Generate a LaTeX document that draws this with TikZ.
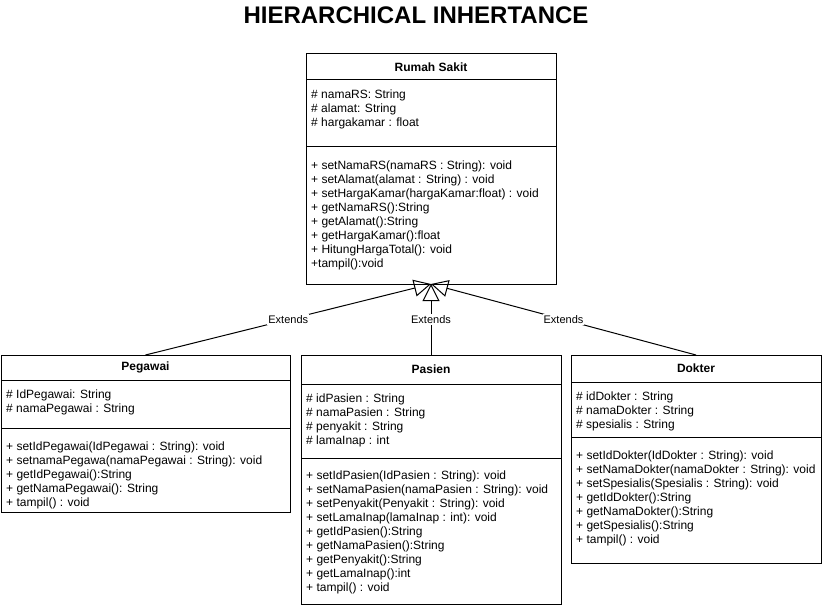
\documentclass[tikz,border=0pt]{standalone}
\usepackage{fontspec}
\setmainfont{Liberation Sans}
\usepackage{tikz}
\usetikzlibrary{arrows.meta,positioning,calc}

\begin{document}
\begin{tikzpicture}[
    x=1pt, y=-1pt,
    font=\fontsize{12}{14}\selectfont,
    classhead/.style={rectangle, draw=black, line width=1pt, outer sep=0pt, anchor=north west, font=\fontsize{12}{14}\selectfont\bfseries},
    classsect/.style={rectangle, draw=black, line width=1pt, outer sep=0pt, below=0pt of #1},
    members/.style={anchor=north west, inner sep=0pt, align=left},
    extends/.style={draw=black, line width=1pt, -{Triangle[open, length=17pt, width=17pt]}},
    extlabel/.style={midway, fill=white, inner sep=1pt, font=\fontsize{11}{13}\selectfont}
]
    \useasboundingbox (0,0) rectangle (822,607);

    \node (title) at (416,15) {\fontsize{24}{28}\selectfont\bfseries HIERARCHICAL INHERTANCE};

    % Rumah Sakit
    \node (rsH) [classhead, minimum width=250, minimum height=26] at (306,54) {Rumah Sakit};
    \node (rsA) [classsect=rsH, minimum width=250, minimum height=67] {};
    \node (rsM) [classsect=rsA, minimum width=250, minimum height=137] {};
    \node (rsAtt) [members] at ([xshift=5pt, yshift=-10pt]rsA.north west) {\# namaRS: String\\\# alamat: String\\\# hargakamar : float};
    \node (rsMeth) [members] at ([xshift=5pt, yshift=-14pt]rsM.north west) {+ setNamaRS(namaRS : String): void\\+ setAlamat(alamat : String) : void\\+ setHargaKamar(hargaKamar:float) : void\\+ getNamaRS():String\\+ getAlamat():String\\+ getHargaKamar():float\\+ HitungHargaTotal(): void\\+tampil():void};

    % Pegawai
    \node (pgH) [classhead, minimum width=289, minimum height=25] at (1,355) {Pegawai};
    \node (pgA) [classsect=pgH, minimum width=289, minimum height=48] {};
    \node (pgM) [classsect=pgA, minimum width=289, minimum height=84] {};
    \node (pgAtt) [members] at ([xshift=5pt, yshift=-10pt]pgA.north west) {\# IdPegawai: String\\\# namaPegawai : String};
    \node (pgMeth) [members] at ([xshift=5pt, yshift=-14pt]pgM.north west) {+ setIdPegawai(IdPegawai : String): void\\+ setnamaPegawa(namaPegawai : String): void\\+ getIdPegawai():String\\+ getNamaPegawai(): String\\+ tampil() : void};

    % Pasien
    \node (psH) [classhead, minimum width=260, minimum height=29] at (301,355) {Pasien};
    \node (psA) [classsect=psH, minimum width=260, minimum height=74] {};
    \node (psM) [classsect=psA, minimum width=260, minimum height=146] {};
    \node (psAtt) [members] at ([xshift=5pt, yshift=-10pt]psA.north west) {\# idPasien : String\\\# namaPasien : String\\\# penyakit : String\\\# lamaInap : int};
    \node (psMeth) [members] at ([xshift=5pt, yshift=-13pt]psM.north west) {+ setIdPasien(IdPasien : String): void\\+ setNamaPasien(namaPasien : String): void\\+ setPenyakit(Penyakit : String): void\\+ setLamaInap(lamaInap : int): void\\+ getIdPasien():String\\+ getNamaPasien():String\\+ getPenyakit():String\\+ getLamaInap():int\\+ tampil() : void};

    % Dokter
    \node (dkH) [classhead, minimum width=250, minimum height=27] at (571,355) {Dokter};
    \node (dkA) [classsect=dkH, minimum width=250, minimum height=55] {};
    \node (dkM) [classsect=dkA, minimum width=250, minimum height=126] {};
    \node (dkAtt) [members] at ([xshift=5pt, yshift=-10pt]dkA.north west) {\# idDokter : String\\\# namaDokter : String\\\# spesialis : String};
    \node (dkMeth) [members] at ([xshift=5pt, yshift=-14pt]dkM.north west) {+ setIdDokter(IdDokter : String): void\\+ setNamaDokter(namaDokter : String): void\\+ setSpesialis(Spesialis : String): void\\+ getIdDokter():String\\+ getNamaDokter():String\\+ getSpesialis():String\\+ tampil() : void};

    \draw [extends] (pgH.north) -- node[extlabel] {Extends} (rsM.south);
    \draw [extends] (psH.north) -- node[extlabel] {Extends} (rsM.south);
    \draw [extends] (dkH.north) -- node[extlabel] {Extends} (rsM.south);
\end{tikzpicture}
\end{document}
